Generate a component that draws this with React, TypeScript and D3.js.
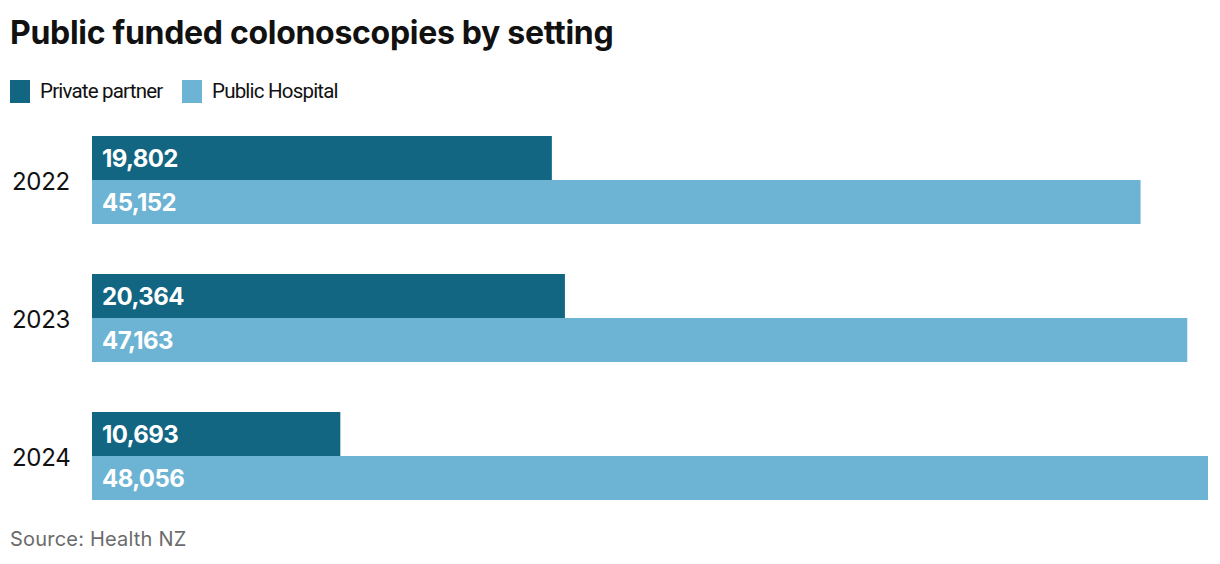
import React from "react";
import * as d3 from "d3";

const years = ["2022", "2023", "2024"];
const seriesNames = ["Private partner", "Public Hospital"];
const privatePartner = [19802, 20364, 10693];
const publicHospital = [45152, 47163, 48056];
const colors = ["#126682", "#6db3d3"];

export default function App() {
  const width = 1220, height = 564;
  const x0 = 92, x1 = 1208;
  const x = d3.scaleLinear().domain([0, d3.max(publicHospital)!]).range([x0, x1]);
  const y = d3.scaleBand().domain(years).range([136, 550]).paddingInner(0).paddingOuter(0);
  const barH = 44;
  const fmt = d3.format(",");
  const font = "Inter, 'Open Sans', sans-serif";
  const series = [privatePartner, publicHospital];
  return (
    <svg width={width} height={height} style={{ position: "absolute", left: 0, top: 0 }} fontFamily={font}>
      <text x={10} y={44} fontSize={32} fontWeight={700} fill="#111" letterSpacing={-0.3}>Public funded colonoscopies by setting</text>
      {seriesNames.map((n, i) => {
        const lx = i === 0 ? 10 : 182;
        return (
          <g key={n}>
            <rect x={lx} y={80} width={20} height={23} fill={colors[i]} />
            <text x={lx + 30} y={98} fontSize={20.5} fill="#111" fontFamily="Roboto, sans-serif" letterSpacing={-0.8}>{n}</text>
          </g>
        );
      })}
      {years.map((yr, gi) => {
        const top = y(yr)!;
        return (
          <g key={yr}>
            <text x={12} y={top + barH + 10} fontSize={24} fill="#111" letterSpacing={-0.3}>{yr}</text>
            {series.map((s, si) => (
              <g key={si}>
                <rect x={x(0)} y={top + si * barH} width={x(s[gi]) - x(0)} height={barH} fill={colors[si]} />
                <text x={x(0) + 10} y={top + si * barH + 31} fontSize={24} fontWeight={700} fill="#fff" letterSpacing={-0.6}>{fmt(s[gi])}</text>
              </g>
            ))}
          </g>
        );
      })}
      <text x={10} y={546} fontSize={20} fill="#6b6b6b" letterSpacing={0.2}>Source: Health NZ</text>
    </svg>
  );
}
